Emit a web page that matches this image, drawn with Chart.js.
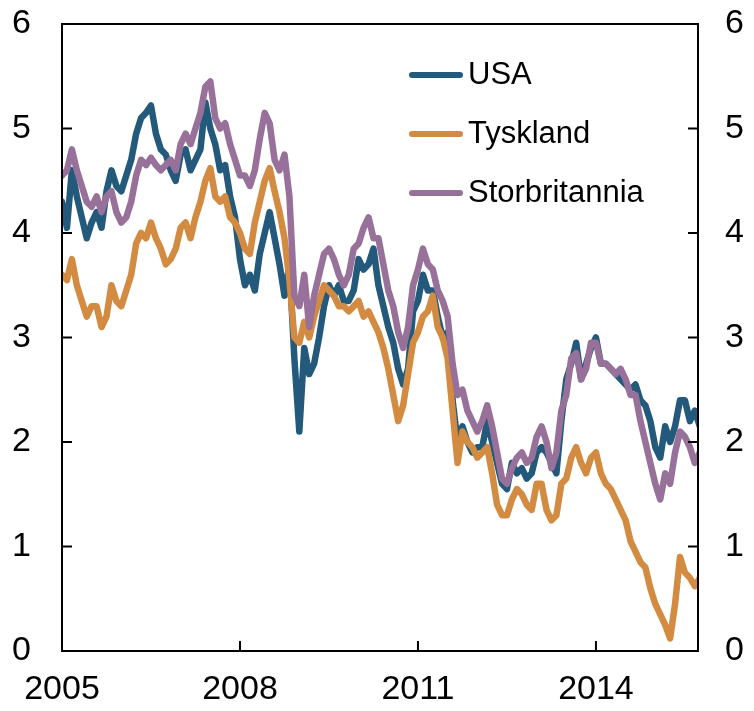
<!DOCTYPE html>
<html>
<head>
<meta charset="utf-8">
<script src="https://cdn.jsdelivr.net/npm/chart.js@4.4.0/dist/chart.umd.min.js"></script>
<style>
  body { margin: 0; background: #fff; }
  canvas { display: block; }
</style>
</head>
<body>
<canvas id="chart" width="754" height="711"></canvas>
<script>
// monthly observations, starting January 2005
const startYear = 2005;
const xTicks = [2005, 2008, 2011, 2014];
const yTicks = [0, 1, 2, 3, 4, 5, 6];
const names = ['USA', 'Tyskland', 'Storbritannia'];
const colors = ['#23597a', '#d28b40', '#97719a'];

const usa = [
  4.3, 4.05, 4.6, 4.35, 4.15, 3.95, 4.1, 4.2, 4.05, 4.4, 4.6, 4.45,
  4.4, 4.55, 4.7, 4.95, 5.1, 5.15, 5.22, 4.95, 4.8, 4.75, 4.6, 4.5,
  4.75, 4.8, 4.6, 4.7, 4.8, 5.25, 5.0, 4.85, 4.6, 4.65, 4.35, 4.15,
  3.75, 3.5, 3.6, 3.45, 3.8, 4.0, 4.2, 3.95, 3.7, 3.4, 3.7, 2.8,
  2.1, 2.9, 2.65, 2.75, 3.0, 3.3, 3.5, 3.4, 3.5, 3.35, 3.35, 3.45,
  3.75, 3.65, 3.7, 3.85, 3.5, 3.3, 3.1, 2.95, 2.7, 2.55, 2.7, 3.25,
  3.35, 3.6, 3.45, 3.45, 3.2, 3.0, 3.05, 2.4, 2.0, 2.15, 2.0, 1.9,
  1.95, 1.95, 2.2, 2.0, 1.8, 1.6, 1.55, 1.8, 1.7, 1.75, 1.65, 1.7,
  1.9, 1.95, 1.9, 1.8, 1.7, 2.2, 2.6, 2.75, 2.95, 2.6, 2.75, 2.9,
  3.0, 2.75, 2.75, 2.7, 2.65, 2.6, 2.55, 2.5, 2.55, 2.4, 2.35, 2.2,
  1.95, 1.85, 2.15, 2.0, 2.15, 2.4, 2.4, 2.2, 2.3, 2.15
];

const tyskland = [
  3.6, 3.55, 3.75, 3.5, 3.35, 3.2, 3.3, 3.3, 3.1, 3.2, 3.5, 3.35,
  3.3, 3.45, 3.6, 3.9, 4.0, 3.95, 4.1, 3.95, 3.85, 3.7, 3.75, 3.85,
  4.05, 4.1, 3.95, 4.15, 4.3, 4.5, 4.62, 4.35, 4.3, 4.35, 4.15, 4.1,
  4.0, 3.85, 3.8, 4.1, 4.3, 4.5, 4.62, 4.4, 4.2, 3.95, 3.55, 3.0,
  2.95, 3.15, 3.0, 3.2, 3.35, 3.5, 3.45, 3.4, 3.3, 3.3, 3.25, 3.3,
  3.35, 3.2, 3.25, 3.15, 3.05, 2.9, 2.7, 2.45, 2.2, 2.35, 2.65, 2.95,
  3.05, 3.2, 3.25, 3.4, 3.1, 3.0, 2.8, 2.3, 1.8, 2.1, 2.0, 1.95,
  1.85, 1.9, 1.95, 1.7, 1.4, 1.3, 1.3, 1.45, 1.55, 1.5, 1.4, 1.35,
  1.6, 1.6, 1.35, 1.25, 1.3, 1.6, 1.65, 1.85, 1.95, 1.8, 1.7, 1.85,
  1.9, 1.7, 1.6, 1.55, 1.45, 1.35, 1.25, 1.05, 0.95, 0.85, 0.8, 0.6,
  0.45, 0.35, 0.25, 0.12, 0.45, 0.9, 0.75, 0.7, 0.62, 0.7
];

const storbritannia = [
  4.55, 4.6, 4.8, 4.6, 4.45, 4.3, 4.25, 4.35, 4.2, 4.35, 4.4, 4.2,
  4.1, 4.15, 4.3, 4.55, 4.7, 4.65, 4.72, 4.65, 4.6, 4.65, 4.7, 4.6,
  4.85, 4.95, 4.85, 5.0, 5.15, 5.4, 5.45, 5.1, 5.0, 5.05, 4.85, 4.7,
  4.55, 4.55, 4.45, 4.6, 4.9, 5.15, 5.05, 4.7, 4.6, 4.75, 4.35, 3.4,
  3.3, 3.6, 3.1, 3.4, 3.6, 3.8, 3.85, 3.75, 3.6, 3.5, 3.6, 3.85,
  3.9, 4.05, 4.15, 3.95, 3.95, 3.7, 3.45, 3.3, 3.05, 2.9, 3.1, 3.5,
  3.65, 3.85, 3.7, 3.65, 3.45, 3.35, 3.2, 2.75, 2.45, 2.5, 2.3, 2.2,
  2.1, 2.2, 2.35, 2.15, 1.9, 1.65, 1.6, 1.75, 1.85, 1.9, 1.8, 1.85,
  2.05, 2.15, 2.0, 1.75, 1.9, 2.3, 2.45, 2.8, 2.85, 2.6, 2.7, 2.95,
  2.95, 2.75, 2.75, 2.7, 2.65, 2.7, 2.6, 2.45, 2.45, 2.2, 2.0, 1.8,
  1.6, 1.45, 1.7, 1.6, 1.9, 2.1, 2.05, 1.95, 1.8, 1.9
];

const FONT = '"Liberation Sans", Arial, sans-serif';

function toPoints(values) {
  return values.map((v, i) => ({ x: startYear + i / 12, y: v }));
}

// box round the plot, inward ticks and the legend inside the plot
const framePlugin = {
  id: 'frame',
  afterDatasetsDraw(chart) {
    const { ctx, chartArea: a, scales } = chart;
    ctx.save();
    ctx.strokeStyle = '#000';
    ctx.lineWidth = 2;
    ctx.strokeRect(a.left, a.top, a.right - a.left, a.bottom - a.top);
    ctx.beginPath();
    yTicks.forEach(v => {
      const y = scales.y.getPixelForValue(v);
      ctx.moveTo(a.left, y); ctx.lineTo(a.left + 10, y);
      ctx.moveTo(a.right, y); ctx.lineTo(a.right - 10, y);
    });
    xTicks.forEach(v => {
      const x = scales.x.getPixelForValue(v);
      ctx.moveTo(x, a.bottom); ctx.lineTo(x, a.bottom - 10);
    });
    ctx.stroke();

    ctx.font = '31px ' + FONT;
    ctx.textBaseline = 'middle';
    ctx.fillStyle = '#000';
    ctx.lineCap = 'round';
    ctx.lineWidth = 6;
    names.forEach((name, i) => {
      const y = 75 + i * 59;
      ctx.strokeStyle = colors[i];
      ctx.beginPath();
      ctx.moveTo(412, y); ctx.lineTo(460, y);
      ctx.stroke();
      ctx.fillText(name, 468, y);
    });
    ctx.restore();
  }
};

const yAxis = (pos, width, pad) => ({
  position: pos,
  min: 0, max: 6,
  grid: { display: false, drawTicks: false },
  border: { display: false },
  ticks: { stepSize: 1, padding: pad, color: '#000', font: { size: 34, family: FONT } },
  afterFit(scale) {
    scale.width = width;
    scale.paddingTop = 0;
    scale.paddingBottom = 0;
  }
});

new Chart(document.getElementById('chart').getContext('2d'), {
  type: 'line',
  data: {
    datasets: [
      { label: names[0], data: toPoints(usa), borderColor: colors[0], order: 3 },
      { label: names[1], data: toPoints(tyskland), borderColor: colors[1], order: 2 },
      { label: names[2], data: toPoints(storbritannia), borderColor: colors[2], order: 1 }
    ]
  },
  options: {
    responsive: false,
    animation: false,
    layout: { padding: { top: 24, left: 0, right: 0, bottom: 0 } },
    elements: {
      point: { radius: 0 },
      line: { borderWidth: 6.5, tension: 0, borderJoinStyle: 'round', borderCapStyle: 'round' }
    },
    plugins: { legend: { display: false }, tooltip: { enabled: false } },
    scales: {
      x: {
        type: 'linear',
        min: 2005, max: 2015.72,
        grid: { display: false, drawTicks: false },
        border: { display: false },
        afterBuildTicks(scale) { scale.ticks = xTicks.map(v => ({ value: v })); },
        ticks: {
          padding: 18, color: '#000', maxRotation: 0,
          font: { size: 34, family: FONT },
          callback: v => String(v)
        },
        afterFit(scale) { scale.height = 60; }
      },
      y: yAxis('left', 62, 31),
      y2: yAxis('right', 56, 27)
    }
  },
  plugins: [framePlugin]
});
</script>
</body>
</html>
